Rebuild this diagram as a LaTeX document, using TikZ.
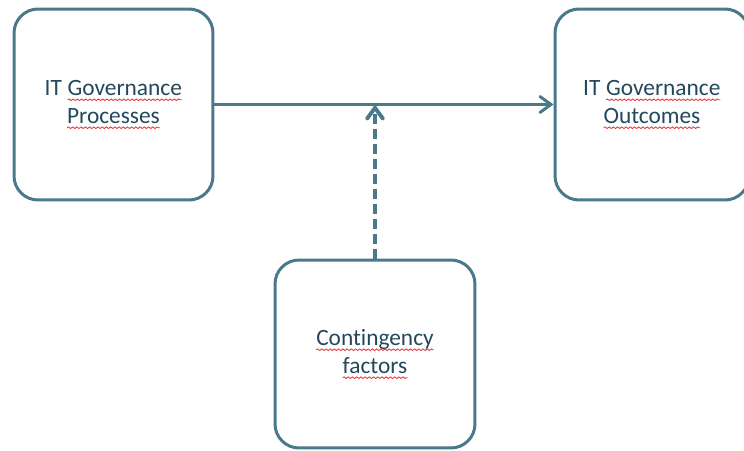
\documentclass[tikz,border=0pt]{standalone}
\usepackage{fontspec}
\setmainfont{Carlito}[Ligatures=NoCommon]
\usepackage{xcolor}
\usetikzlibrary{arrows.meta,calc,decorations.pathmorphing}

\definecolor{frame}{RGB}{74,122,138}
\definecolor{words}{RGB}{35,72,92}
\definecolor{spell}{RGB}{230,60,60}

% wavy spelling mark under a word
\newcommand{\spellmark}[1]{\tikz[baseline=(w.base), x=1cm, y=1cm, sharp corners, solid]{%
    \node[inner sep=0pt, outer sep=0pt, minimum width=0pt, minimum height=0pt,
        draw=none, text=words] (w) {#1};
    \draw[spell, line width=0.5pt, decorate,
        decoration={snake, amplitude=0.45pt, segment length=2.4pt}]
        ([yshift=-2.6pt]w.base west) -- ([yshift=-2.6pt]w.base east);}}

\begin{document}
\begin{tikzpicture}[x=0.02cm,y=0.02cm,
    box/.style={draw=frame, line width=1.7pt, rounded corners=0.48cm, align=center,
        text=words, inner sep=0pt, font=\fontsize{13.3}{15.9}\selectfont},
    flow/.style={draw=frame, line width=1.7pt,
        -{Straight Barb[length=0.22cm,width=0.32cm,line cap=round]}}]
    \useasboundingbox (0,0) rectangle (744,450);
    % Boxes
    \node[box, minimum width=3.98cm, minimum height=3.82cm] (processes) at (113.5,345.5)
        {IT \spellmark{Governance}\\\spellmark{Processes}};
    \node[box, minimum width=3.88cm, minimum height=3.82cm] (outcomes) at (652,345.5)
        {IT \spellmark{Governance}\\\spellmark{Outcomes}};
    \node[box, minimum width=4cm, minimum height=3.76cm] (factors) at (375,96)
        {\spellmark{Contingency}\\\spellmark{factors}};

    % Arrows
    \coordinate (join) at (factors.north |- processes.east);
    \draw[flow] (processes.east) -- (outcomes.west);
    \draw[flow, line width=2.2pt, dash pattern=on 0.2cm off 0.1cm] (factors.north) -- (join);
\end{tikzpicture}
\end{document}
